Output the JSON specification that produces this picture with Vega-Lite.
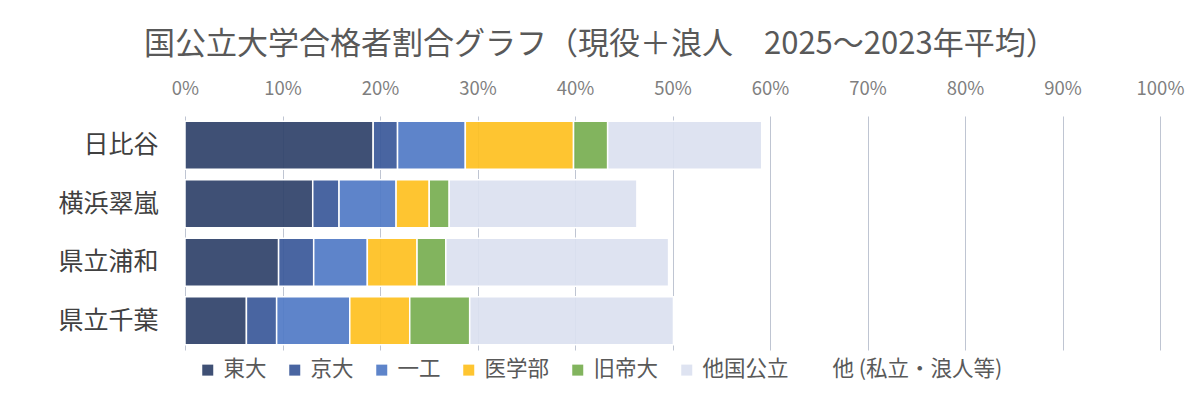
{
  "$schema": "https://vega.github.io/schema/vega-lite/v6.json",
  "autosize": {"type": "none"},
  "padding": {"left": 185, "top": 116, "right": 40, "bottom": 52},
  "width": 975,
  "height": 234,
  "background": "white",
  "title": {
    "text": "国公立大学合格者割合グラフ（現役＋浪人　2025～2023年平均）",
    "anchor": "start",
    "frame": "group",
    "dx": -41,
    "fontSize": 31,
    "fontWeight": "normal",
    "color": "#595959",
    "offset": 18
  },
  "data": {
    "values": [
      {"school": "日比谷", "cat": "東大", "value": 19.3},
      {"school": "日比谷", "cat": "京大", "value": 2.5},
      {"school": "日比谷", "cat": "一工", "value": 6.95},
      {"school": "日比谷", "cat": "医学部", "value": 11.1},
      {"school": "日比谷", "cat": "旧帝大", "value": 3.5},
      {"school": "日比谷", "cat": "他国公立", "value": 15.8},
      {"school": "日比谷", "cat": "他 (私立・浪人等)", "value": 40.85},
      {"school": "横浜翠嵐", "cat": "東大", "value": 13.1},
      {"school": "横浜翠嵐", "cat": "京大", "value": 2.7},
      {"school": "横浜翠嵐", "cat": "一工", "value": 5.85},
      {"school": "横浜翠嵐", "cat": "医学部", "value": 3.4},
      {"school": "横浜翠嵐", "cat": "旧帝大", "value": 2.05},
      {"school": "横浜翠嵐", "cat": "他国公立", "value": 19.25},
      {"school": "横浜翠嵐", "cat": "他 (私立・浪人等)", "value": 53.65},
      {"school": "県立浦和", "cat": "東大", "value": 9.6},
      {"school": "県立浦和", "cat": "京大", "value": 3.6},
      {"school": "県立浦和", "cat": "一工", "value": 5.5},
      {"school": "県立浦和", "cat": "医学部", "value": 5.1},
      {"school": "県立浦和", "cat": "旧帝大", "value": 2.95},
      {"school": "県立浦和", "cat": "他国公立", "value": 22.85},
      {"school": "県立浦和", "cat": "他 (私立・浪人等)", "value": 50.4},
      {"school": "県立千葉", "cat": "東大", "value": 6.3},
      {"school": "県立千葉", "cat": "京大", "value": 3.1},
      {"school": "県立千葉", "cat": "一工", "value": 7.5},
      {"school": "県立千葉", "cat": "医学部", "value": 6.15},
      {"school": "県立千葉", "cat": "旧帝大", "value": 6.15},
      {"school": "県立千葉", "cat": "他国公立", "value": 20.9},
      {"school": "県立千葉", "cat": "他 (私立・浪人等)", "value": 49.9}
    ]
  },
  "transform": [
    {"calculate": "indexof(['東大','京大','一工','医学部','旧帝大','他国公立','他 (私立・浪人等)'], datum.cat)", "as": "k"}
  ],
  "mark": {"type": "bar", "fillOpacity": 0.92, "stroke": "white", "strokeWidth": 1.5},
  "encoding": {
    "y": {
      "field": "school",
      "type": "nominal",
      "sort": ["日比谷", "横浜翠嵐", "県立浦和", "県立千葉"],
      "scale": {"paddingInner": 0.18, "paddingOuter": 0.09},
      "axis": {
        "title": null,
        "labelFontSize": 25,
        "labelColor": "#404040",
        "labelPadding": 27,
        "ticks": false,
        "domain": false,
        "grid": false
      }
    },
    "x": {
      "field": "value",
      "type": "quantitative",
      "stack": "zero",
      "scale": {"domain": [0, 100], "nice": false},
      "axis": {
        "orient": "top",
        "title": null,
        "values": [0, 10, 20, 30, 40, 50, 60, 70, 80, 90, 100],
        "labelExpr": "datum.value + '%'",
        "labelFlush": false,
        "labelFontSize": 18.5,
        "labelColor": "#7f7f7f",
        "labelPadding": 18,
        "ticks": false,
        "domain": false,
        "grid": true,
        "gridColor": "#bfc5d2",
        "gridWidth": 1
      }
    },
    "color": {
      "field": "cat",
      "type": "nominal",
      "sort": ["東大", "京大", "一工", "医学部", "旧帝大", "他国公立", "他 (私立・浪人等)"],
      "scale": {
        "domain": ["東大", "京大", "一工", "医学部", "旧帝大", "他国公立", "他 (私立・浪人等)"],
        "range": ["#2f4169", "#3a5899", "#5079c6", "#fec01f", "#77ae50", "#dbe1f0", "rgba(255,255,255,0)"]
      },
      "legend": {
        "title": null,
        "orient": "none",
        "direction": "horizontal",
        "legendX": 12,
        "legendY": 243,
        "symbolType": "square",
        "symbolSize": 121,
        "symbolStrokeWidth": 0,
        "symbolOpacity": 0.92,
        "labelFontSize": 21.5,
        "labelColor": "#595959",
        "labelOffset": 5,
        "columnPadding": 17,
        "labelLimit": 300
      }
    },
    "order": {"field": "k", "type": "quantitative"},
    "strokeOpacity": {
      "condition": {"test": "datum.cat === '他 (私立・浪人等)'", "value": 0},
      "value": 1
    }
  },
  "config": {
    "font": "Noto Sans CJK JP",
    "view": {"stroke": null}
  }
}
